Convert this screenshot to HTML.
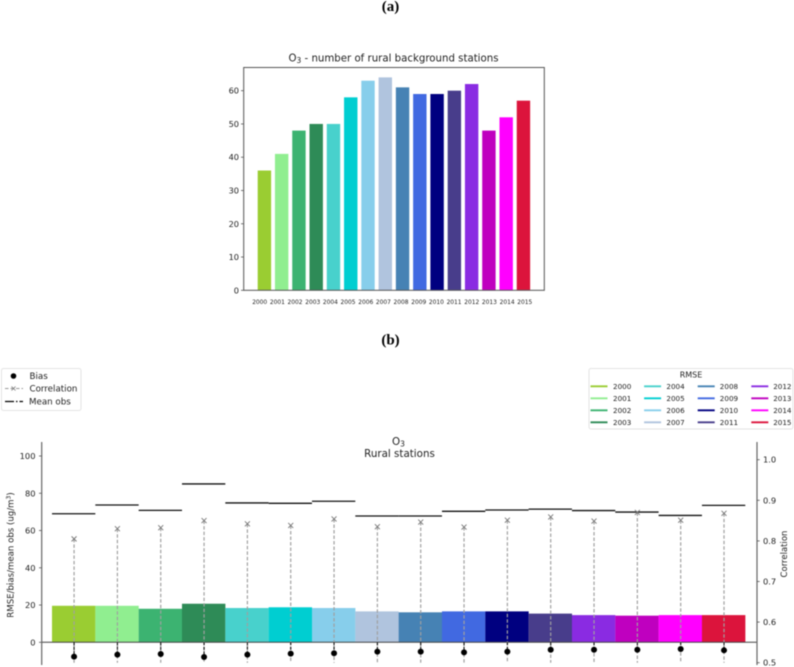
<!DOCTYPE html>
<html>
<head>
<meta charset="utf-8">
<title>O3 rural stations</title>
<style>
html,body{margin:0;padding:0;background:#fff;}
svg{display:block;filter:blur(0.45px);}
text{font-family:"DejaVu Sans","Liberation Sans",sans-serif;fill:#222;}
.cap{font-family:"Liberation Serif",serif;font-weight:bold;font-size:15px;fill:#000;}
</style>
</head>
<body>
<svg id="fig" xmlns="http://www.w3.org/2000/svg" width="794" height="667" viewBox="0 0 794 667">
  <text class="cap" x="390.5" y="11" text-anchor="middle">(a)</text>
  <text class="cap" x="390.5" y="344.5" text-anchor="middle">(b)</text>
  <text x="393.5" y="61.5" text-anchor="middle" font-size="10.2">O<tspan font-size="7.5" dy="1.5">3</tspan><tspan dy="-1.5"> - number of rural background stations</tspan></text>
  <text x="398.5" y="445" text-anchor="middle" font-size="10.3">O<tspan font-size="7.5" dy="1.5">3</tspan></text>
  <text x="399.5" y="457" text-anchor="middle" font-size="10.3">Rural stations</text>
  <text transform="translate(13.5,555) rotate(-90)" text-anchor="middle" font-size="8.6">RMSE/bias/mean obs (ug/m<tspan font-size="6" dy="-3">3</tspan><tspan dy="3">)</tspan></text>
  <text transform="translate(787,554) rotate(-90)" text-anchor="middle" font-size="8.5">Correlation</text>
  <g id="top"></g>
  <g id="bottom"></g>
  <g id="legend-left">
    <rect x="1.5" y="368.5" width="79.5" height="42" rx="2" fill="#fff" stroke="#e4e4e4"/>
    <circle cx="13.5" cy="376" r="2.8" fill="#000"/>
    <text x="29.5" y="379" font-size="8.7">Bias</text>
    <line x1="5" x2="23" y1="388.5" y2="388.5" stroke="#999" stroke-width="1" stroke-dasharray="3.5 2"/>
    <path d="M11.5 386.5l4 4m0-4l-4 4" stroke="#777" stroke-width="0.8" fill="none"/>
    <text x="29.5" y="391.5" font-size="8.7">Correlation</text>
    <line x1="5" x2="23" y1="401.5" y2="401.5" stroke="#000" stroke-width="1.2" stroke-dasharray="9 2 1.5 2"/>
    <text x="29" y="404.5" font-size="8.7">Mean obs</text>
  </g>
  <g id="legend-right">
    <rect x="589" y="368.5" width="204" height="60.5" rx="2" fill="#fff" stroke="#e4e4e4"/>
    <text x="691" y="377.5" text-anchor="middle" font-size="8">RMSE</text>
  </g>
</svg>
<script>
const years = ['2000','2001','2002','2003','2004','2005','2006','2007','2008','2009','2010','2011','2012','2013','2014','2015'];
const colors = ['#9acd32','#90ee90','#3cb371','#2e8b57','#48d1cc','#00ced1','#87ceeb','#b0c4de','#4682b4','#4169e1','#000080','#483d8b','#8a2be2','#bf00bf','#ff00ff','#dc143c'];
const stationCounts = [36,41,48,50,50,58,63,64,61,59,59,60,62,48,52,57];
const stationTicks = [0,10,20,30,40,50,60];
const rmse = [19.6,19.6,18,20.7,18.4,18.8,18.4,16.6,16.1,16.6,16.6,15.4,14.6,14.3,14.6,14.6];
const meanObs = [69,73.7,70.8,85,74.8,74.6,75.7,67.8,67.8,70.3,71,71.5,70.7,69.9,68.1,73.5];
const bias = [-7.7,-6.6,-6.3,-7.9,-6.6,-6.1,-5.9,-5,-5,-5.4,-5,-4,-4,-4,-3.6,-4.3];
const correlation = [0.805,0.83,0.8325,0.85,0.842,0.838,0.854,0.835,0.8465,0.834,0.851,0.859,0.849,0.87,0.851,0.868];
const leftTicks = [0,20,40,60,80,100];
const rightTicks = [0.5,0.6,0.7,0.8,0.9,1.0];

const NS = 'http://www.w3.org/2000/svg';
function mk(parent, tag, attrs, txt) {
  const el = document.createElementNS(NS, tag);
  for (const k in attrs) el.setAttribute(k, attrs[k]);
  if (txt !== undefined) el.textContent = txt;
  parent.appendChild(el);
  return el;
}
const top_ = document.getElementById('top');
const bot = document.getElementById('bottom');
const lr = document.getElementById('legend-right');

/* top chart axes */
const yTop = v => 290.3 - v * 3.327;
const xTopBar = i => 257.7 + i * 17.27;
const xTopLabel = i => 259.7 + i * 17.67;
const barW = 13.4;

stationCounts.forEach((v, i) => {
  const r = mk(top_, 'rect', {x: xTopBar(i), y: yTop(v), width: barW, height: yTop(0) - yTop(v), fill: colors[i]});
  
  
});
const frame = mk(top_, 'rect', {x: 243.7, y: 67.5, width: 300.6, height: 222.8, fill: 'none', stroke: '#555', 'stroke-width': 1});


stationTicks.forEach(v => {
  const t = mk(top_, 'line', {x1: 241, x2: 243.7, y1: yTop(v), y2: yTop(v), stroke: '#555', 'stroke-width': 0.8});
  
  
  const l = mk(top_, 'text', {x: 239, y: yTop(v) + 3, 'text-anchor': 'end', 'font-size': 8.2}, String(v));
  
  
});
years.forEach((y, i) => {
  const l = mk(top_, 'text', {x: xTopLabel(i), y: 304, 'text-anchor': 'middle', 'font-size': 5.9}, y);
  
  
});

/* bottom chart axes */
const yLeft = v => 642.3 - v * 1.863;
const yRight = v => 662.7 - (v - 0.5) * 406;
const xBar = i => 52 + i * 43.33;
const xMid = i => xBar(i) + 43.33 / 2;

rmse.forEach((v, i) => {
  const r = mk(bot, 'rect', {x: xBar(i), y: yLeft(v), width: 43.4, height: yLeft(0) - yLeft(v), fill: colors[i]});
  
  
});
const zero = mk(bot, 'line', {x1: 41.7, x2: 757, y1: yLeft(0), y2: yLeft(0), stroke: '#444', 'stroke-width': 1});


const sl = mk(bot, 'line', {x1: 41.7, x2: 41.7, y1: 442, y2: 665, stroke: '#666', 'stroke-width': 1.2});


const sr = mk(bot, 'line', {x1: 757, x2: 757, y1: 442, y2: 665, stroke: '#666', 'stroke-width': 1.2});


leftTicks.forEach(v => {
  const t = mk(bot, 'line', {x1: 39, x2: 41.7, y1: yLeft(v), y2: yLeft(v), stroke: '#555', 'stroke-width': 0.8});
  
  
  const l = mk(bot, 'text', {x: 35.5, y: yLeft(v) + 3, 'text-anchor': 'end', 'font-size': 8.3}, String(v));
  
  
});
rightTicks.forEach(v => {
  const t = mk(bot, 'line', {x1: 757, x2: 759.7, y1: yRight(v), y2: yRight(v), stroke: '#555', 'stroke-width': 0.8});
  
  
  const l = mk(bot, 'text', {x: 763, y: yRight(v) + 3, 'font-size': 8.3}, v.toFixed(1));
  
  
});
meanObs.forEach((v, i) => {
  const l = mk(bot, 'line', {x1: xBar(i), x2: xBar(i) + 43.33, y1: yLeft(v), y2: yLeft(v), stroke: '#111', 'stroke-width': 1.3});
  
  
});
correlation.forEach((v, i) => {
  const x = xMid(i) + 0.4, y = yRight(v);
  const s = mk(bot, 'line', {x1: x, x2: x, y1: y, y2: yRight(0.5), stroke: '#a0a0a0', 'stroke-width': 1.2, 'stroke-dasharray': '3.5 2'});
  
  
  const m = mk(bot, 'path', {d: `M${x-2.5} ${y-2.5}l5 5m0-5l-5 5`, stroke: '#777', 'stroke-width': 0.9, fill: 'none'});
  
  
});
bias.forEach((v, i) => {
  const x = xMid(i) + 0.4;
  const s = mk(bot, 'line', {x1: x, x2: x, y1: yLeft(0), y2: yLeft(v), stroke: '#000', 'stroke-width': 1, 'stroke-dasharray': '3 1.5'});
  
  
  const c = mk(bot, 'circle', {cx: x, cy: yLeft(v), r: 3, fill: '#000'});
  
  
});

/* rmse legend */
years.forEach((y, i) => {
  const col = Math.floor(i / 4), row = i % 4;
  const lx = 590.5 + col * 53.6, ly = 386.3 + row * 12;
  const l = mk(lr, 'line', {x1: lx, x2: lx + 17, y1: ly, y2: ly, stroke: colors[i], 'stroke-width': 1.8});
  
  
  const t = mk(lr, 'text', {x: lx + 22.5 - col * 0.2, y: ly + 2.7, 'font-size': 7.2}, y);
  
  
});
</script>
</body>
</html>
